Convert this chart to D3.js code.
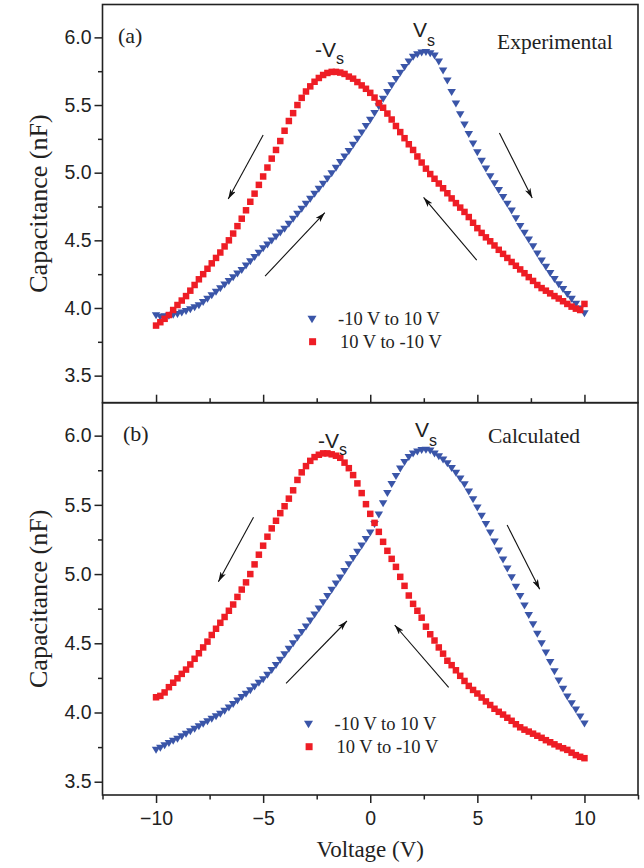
<!DOCTYPE html>
<html>
<head>
<meta charset="utf-8">
<script src="https://cdn.jsdelivr.net/npm/d3@7"></script>
<style>
  body { margin: 0; background: #fff; }
  svg text { fill: #222; }
</style>
</head>
<body>
<div id="chart"></div>
<script>
// 1. DONNÉES
const voltage = [-10,-9.8,-9.6,-9.4,-9.2,-9,-8.8,-8.6,-8.4,-8.2,
  -8,-7.8,-7.6,-7.4,-7.2,-7,-6.8,-6.6,-6.4,-6.2,
  -6,-5.8,-5.6,-5.4,-5.2,-5,-4.8,-4.6,-4.4,-4.2,
  -4,-3.8,-3.6,-3.4,-3.2,-3,-2.8,-2.6,-2.4,-2.2,
  -2,-1.8,-1.6,-1.4,-1.2,-1,-0.8,-0.6,-0.4,-0.2,
  0,0.2,0.4,0.6,0.8,1,1.2,1.4,1.6,1.8,
  2,2.2,2.4,2.6,2.8,3,3.2,3.4,3.6,3.8,
  4,4.2,4.4,4.6,4.8,5,5.2,5.4,5.6,5.8,
  6,6.2,6.4,6.6,6.8,7,7.2,7.4,7.6,7.8,
  8,8.2,8.4,8.6,8.8,9,9.2,9.4,9.6,9.8,
  10];

// (a) Experimental, balayage -10 V -> 10 V
const expUp = [3.945,3.935,3.937,3.942,3.948,3.955,3.965,3.977,3.99,4.005,
  4.02,4.043,4.068,4.093,4.119,4.145,4.172,4.199,4.226,4.253,
  4.28,4.312,4.344,4.376,4.408,4.44,4.469,4.498,4.527,4.556,
  4.585,4.621,4.658,4.695,4.732,4.77,4.807,4.844,4.881,4.918,
  4.955,4.995,5.036,5.077,5.118,5.16,5.205,5.25,5.296,5.343,
  5.39,5.44,5.49,5.545,5.595,5.645,5.692,5.738,5.78,5.82,
  5.855,5.875,5.888,5.89,5.882,5.865,5.82,5.755,5.68,5.595,
  5.51,5.43,5.355,5.285,5.215,5.15,5.088,5.03,4.972,4.92,
  4.87,4.82,4.77,4.72,4.662,4.605,4.555,4.505,4.455,4.402,
  4.35,4.303,4.257,4.213,4.175,4.14,4.103,4.067,4.03,3.995,
  3.96];

// (a) Experimental, balayage 10 V -> -10 V (rangé par tension croissante)
const expDown = [3.87,3.895,3.92,3.948,3.985,4.022,4.055,4.088,4.128,4.17,
  4.212,4.25,4.29,4.33,4.37,4.41,4.455,4.5,4.55,4.605,
  4.66,4.722,4.785,4.845,4.91,4.972,5.038,5.104,5.168,5.234,
  5.31,5.382,5.44,5.5,5.553,5.6,5.638,5.672,5.7,5.722,
  5.737,5.745,5.745,5.74,5.73,5.71,5.695,5.67,5.645,5.62,
  5.59,5.555,5.515,5.48,5.437,5.393,5.345,5.3,5.255,5.21,
  5.168,5.12,5.075,5.03,4.99,4.955,4.92,4.885,4.848,4.81,
  4.775,4.742,4.71,4.672,4.63,4.59,4.555,4.522,4.493,4.462,
  4.43,4.4,4.37,4.34,4.312,4.285,4.257,4.228,4.2,4.17,
  4.147,4.128,4.108,4.088,4.07,4.05,4.03,4.01,3.995,3.985,
  4.03];

// (b) Calculated, balayage -10 V -> 10 V
const calcUp = [3.73,3.745,3.762,3.778,3.794,3.81,3.828,3.846,3.864,3.882,
  3.9,3.918,3.936,3.954,3.972,3.99,4.012,4.035,4.06,4.085,
  4.11,4.135,4.16,4.186,4.213,4.24,4.272,4.306,4.342,4.38,
  4.42,4.46,4.5,4.54,4.58,4.62,4.663,4.707,4.751,4.795,
  4.84,4.885,4.93,4.975,5.022,5.07,5.115,5.16,5.206,5.253,
  5.3,5.36,5.43,5.51,5.585,5.65,5.708,5.762,5.808,5.845,
  5.87,5.885,5.895,5.897,5.892,5.87,5.85,5.826,5.8,5.766,
  5.73,5.69,5.648,5.595,5.54,5.48,5.42,5.36,5.3,5.235,
  5.17,5.105,5.04,4.976,4.908,4.84,4.772,4.704,4.636,4.568,
  4.5,4.432,4.364,4.296,4.23,4.17,4.115,4.065,4.02,3.97,
  3.92];

// (b) Calculated, balayage 10 V -> -10 V
const calcDown = [4.11,4.12,4.145,4.183,4.215,4.247,4.279,4.31,4.347,4.388,
  4.428,4.47,4.512,4.56,4.605,4.648,4.69,4.735,4.78,4.835,
  4.888,4.94,5.0,5.07,5.14,5.205,5.27,5.33,5.385,5.44,
  5.49,5.545,5.605,5.68,5.735,5.78,5.818,5.845,5.862,5.872,
  5.872,5.865,5.855,5.84,5.805,5.765,5.715,5.655,5.585,5.505,
  5.435,5.37,5.305,5.233,5.168,5.11,5.052,4.98,4.915,4.845,
  4.785,4.735,4.685,4.62,4.565,4.52,4.47,4.425,4.374,4.342,
  4.305,4.265,4.228,4.192,4.163,4.137,4.108,4.08,4.054,4.027,
  4.005,3.985,3.962,3.94,3.915,3.893,3.876,3.862,3.847,3.832,
  3.817,3.8,3.785,3.77,3.755,3.742,3.73,3.71,3.692,3.68,
  3.67];

const xTicks = [-10, -5, 0, 5, 10];
const xMinor = [-12.5, -7.5, -2.5, 2.5, 7.5, 12.5];
const yTicks = [3.5, 4.0, 4.5, 5.0, 5.5, 6.0];
const yMinor = [3.75, 4.25, 4.75, 5.25, 5.75];
const legendLabels = ["-10 V to 10 V", "10 V to -10 V"];

// 2. CONFIGURATION GÉNÉRALE
const W = 644, H = 868;
const left = 102.5, right = 638;
const blue = "#3a55a8", red = "#ee1d25", ink = "#222";
const serif = "'Liberation Serif', 'Times New Roman', serif";
const sans = "'Liberation Sans', Arial, sans-serif";

const panels = [
  { tag: "(a)", title: "Experimental", up: expUp, down: expDown,
    domain: [3.30, 6.243], top: 4.5, bottom: 402.7,
    tagPos: [118, 42.5], titlePos: [497, 49],
    vs: [413, 37], mvs: [315, 57], legend: [312, 319],
    arrows: [[-5.0, 5.278, -6.63, 4.805], [-4.91, 4.236, -2.12, 4.704],
             [6.03, 5.293, 7.56, 4.812], [4.97, 4.354, 2.49, 4.817]] },
  { tag: "(b)", title: "Calculated", up: calcUp, down: calcDown,
    domain: [3.404, 6.238], top: 402.7, bottom: 795,
    tagPos: [123, 441], titlePos: [488, 443],
    vs: [415, 437], mvs: [318, 448], legend: [308.5, 724],
    arrows: [[-5.45, 5.41, -7.09, 4.945], [-3.93, 4.211, -1.09, 4.661],
             [6.39, 5.355, 7.91, 4.89], [3.66, 4.182, 1.14, 4.632]] }
];

const svg = d3.select("#chart").append("svg")
  .attr("width", W).attr("height", H);

svg.append("defs").append("marker")
  .attr("id", "head")
  .attr("viewBox", "0 0 10 6")
  .attr("refX", 10).attr("refY", 3)
  .attr("markerUnits", "userSpaceOnUse")
  .attr("markerWidth", 10).attr("markerHeight", 6)
  .attr("orient", "auto")
  .append("path").attr("d", "M0,0L10,3L0,6L2.5,3Z").attr("fill", "#111");

const x = d3.scaleLinear().domain([-12.5, 12.5]).range([left, right]);

const tri = (w, h) => `M${-w / 2},${-h * 0.45}L${w / 2},${-h * 0.45}L0,${h * 0.55}Z`;
const sq = s => `M${-s / 2},${-s / 2}h${s}v${s}h${-s}Z`;

panels.forEach((p, i) => {
  const y = d3.scaleLinear().domain(p.domain).range([p.bottom, p.top]);
  const g = svg.append("g");

  // Axes Y (graduations extérieures)
  g.append("g").attr("transform", `translate(${left},0)`)
    .call(d3.axisLeft(y).tickValues(yTicks).tickSize(8).tickPadding(3)
      .tickFormat(d3.format(".1f")));
  g.append("g").attr("transform", `translate(${left},0)`)
    .call(d3.axisLeft(y).tickValues(yMinor).tickSize(4.5).tickFormat(""));

  // Axes X
  if (i === 0) {
    g.append("g").attr("transform", `translate(0,${p.bottom})`)
      .call(d3.axisTop(x).tickValues(xTicks).tickSize(8).tickFormat(""));
    g.append("g").attr("transform", `translate(0,${p.bottom})`)
      .call(d3.axisTop(x).tickValues(xMinor.slice(1, -1)).tickSize(4.5).tickFormat(""));
  } else {
    g.append("g").attr("transform", `translate(0,${p.bottom})`)
      .call(d3.axisBottom(x).tickValues(xTicks).tickSize(8).tickPadding(8));
    g.append("g").attr("transform", `translate(0,${p.bottom})`)
      .call(d3.axisBottom(x).tickValues(xMinor).tickSize(4.5).tickFormat(""));
  }

  g.selectAll(".domain").remove();
  g.selectAll(".tick line").attr("stroke", ink).attr("stroke-width", 1.5);
  g.selectAll(".tick text").attr("font-family", sans).attr("font-size", 19.5)
    .attr("fill", ink);

  // Cadre
  g.append("rect")
    .attr("x", left).attr("y", p.top)
    .attr("width", right - left).attr("height", p.bottom - p.top)
    .attr("fill", "none").attr("stroke", ink).attr("stroke-width", 1.6);

  // Séries
  g.append("g").selectAll("path")
    .data(voltage.map((v, k) => [v, p.up[k]]))
    .join("path")
    .attr("transform", d => `translate(${x(d[0])},${y(d[1])})`)
    .attr("d", tri(8.5, 7)).attr("fill", blue);

  g.append("g").selectAll("path")
    .data(voltage.map((v, k) => [v, p.down[k]]))
    .join("path")
    .attr("transform", d => `translate(${x(d[0])},${y(d[1])})`)
    .attr("d", sq(6.5)).attr("fill", red);

  // Flèches
  g.selectAll("line.arrow")
    .data(p.arrows)
    .join("line").attr("class", "arrow")
    .attr("x1", d => x(d[0])).attr("y1", d => y(d[1]))
    .attr("x2", d => x(d[2])).attr("y2", d => y(d[3]))
    .attr("stroke", "#111").attr("stroke-width", 1.1)
    .attr("marker-end", "url(#head)");

  // Textes
  g.append("text").attr("x", p.tagPos[0]).attr("y", p.tagPos[1])
    .attr("font-family", serif).attr("font-size", 22).text(p.tag);
  g.append("text").attr("x", p.titlePos[0]).attr("y", p.titlePos[1])
    .attr("font-family", serif).attr("font-size", 21.5).text(p.title);

  const vs = g.append("text").attr("x", p.vs[0]).attr("y", p.vs[1])
    .attr("font-family", sans).attr("font-size", 21);
  vs.append("tspan").text("V");
  vs.append("tspan").attr("dy", 9).attr("font-size", 16).text("s");

  const mvs = g.append("text").attr("x", p.mvs[0]).attr("y", p.mvs[1])
    .attr("font-family", sans).attr("font-size", 21);
  mvs.append("tspan").text("-V");
  mvs.append("tspan").attr("dy", 7).attr("font-size", 16).text("s");

  // Légende
  const lg = g.append("g").attr("transform", `translate(${p.legend[0]},${p.legend[1]})`);
  lg.append("path").attr("d", tri(9, 7.5)).attr("fill", blue);
  lg.append("path").attr("transform", "translate(0.6,22.7)").attr("d", sq(7)).attr("fill", red);
  legendLabels.forEach((t, k) => {
    lg.append("text").attr("x", 26 + k * 2).attr("y", 6 + k * 22.5)
      .attr("font-family", serif).attr("font-size", 18.5).text(t);
  });

  // Titre de l'axe Y
  g.append("text")
    .attr("transform", `translate(47,${(p.top + p.bottom) / 2}) rotate(-90)`)
    .attr("text-anchor", "middle")
    .attr("font-family", serif).attr("font-size", 26)
    .text("Capacitance (nF)");
});

// Titre de l'axe X
svg.append("text")
  .attr("x", x(0)).attr("y", 857)
  .attr("text-anchor", "middle")
  .attr("font-family", serif).attr("font-size", 23)
  .text("Voltage (V)");
</script>
</body>
</html>
